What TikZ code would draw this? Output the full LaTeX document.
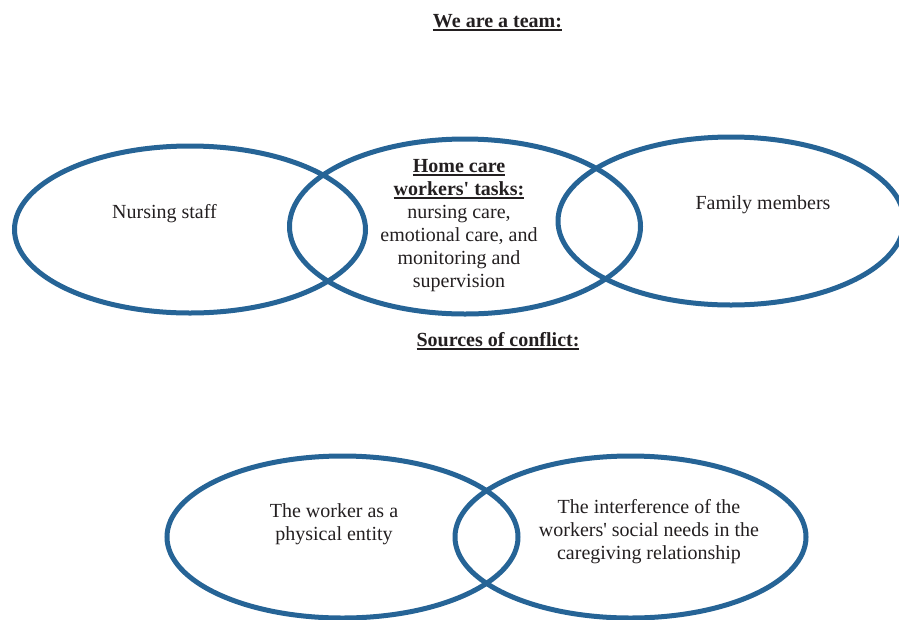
\documentclass[tikz,border=0pt]{standalone}
\usepackage{fontspec}
\setmainfont{Liberation Serif}
\usetikzlibrary{shapes.geometric}
\usetikzlibrary{positioning}
\definecolor{ringblue}{RGB}{38,100,150}
\definecolor{inkgrey}{RGB}{35,31,32}
\newcommand{\ulbf}[1]{\setbox0=\hbox{\bfseries #1}\rlap{\copy0}\rule[-3.6pt]{\wd0}{1.8pt}}

\begin{document}
\begin{tikzpicture}[
        x=1pt, y=-1pt,
        every node/.style = {
        text=inkgrey, inner sep=0pt, align=center,
        font=\fontsize{20}{23}\selectfont
        },
        ring/.style = {
        draw=ringblue, line width=5pt, ellipse, minimum width=351pt, minimum height=167pt
        }
        ]
    \useasboundingbox (0,0) rectangle (899,619);
    % we are a team
    \node[anchor=base] (team) at (497.5,27) {\ulbf{We are a team:}};
    \node[ring] (nurse) at (190,229.5) {};
    \node[ring, minimum height=175pt] (home) at (465,226.5) {};
    \node[ring, minimum width=346pt, minimum height=168pt] (family) at (731,221) {};
    \node[anchor=base] (nursetext) at (164.5,218.5) {Nursing staff};
    \node[anchor=base] (familytext) at (763,209) {Family members};
    \node[anchor=base] (hometext) at (459,287) {\ulbf{Home care}\\ \ulbf{workers\textquotesingle{} tasks:}\\ nursing care,\\ emotional care, and\\ monitoring and\\ supervision};
    % sources of conflict
    \node[anchor=base] (conflict) at (498,346) {\ulbf{Sources of conflict:}};
    \node[ring, minimum height=162pt] (body) at (342.5,537) {};
    \node[ring, minimum height=162pt] (social) at (630.5,537) {};
    \node[anchor=base] (bodytext) at (334,540) {The worker as a\\ physical entity};
    \node[anchor=base] (socialtext) at (649,559) {The interference of the\\ workers\textquotesingle{} social needs in the\\ caregiving relationship};
\end{tikzpicture}
\end{document}
